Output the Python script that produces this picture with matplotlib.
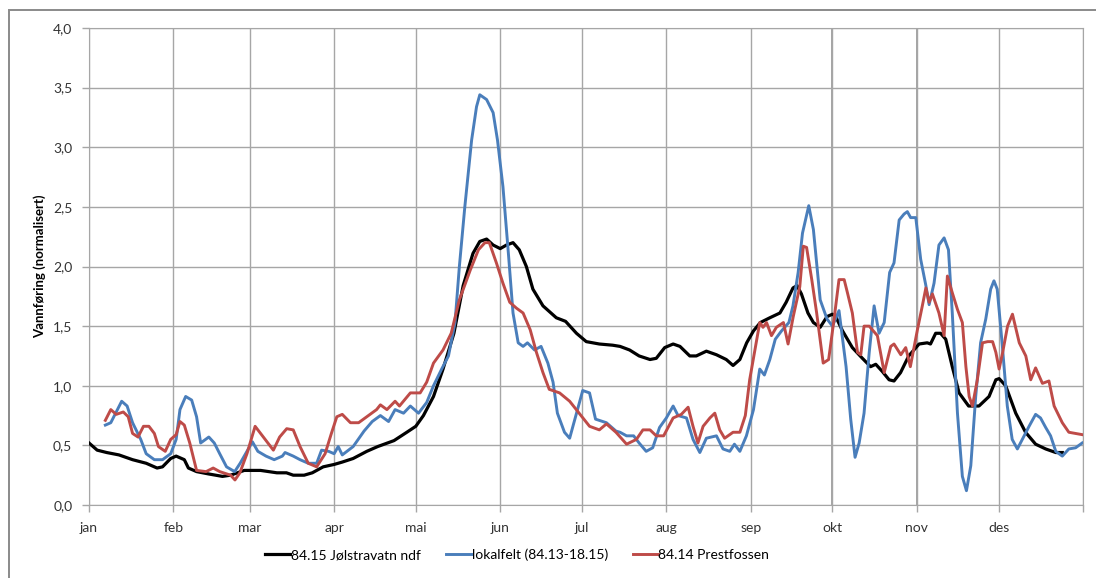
import matplotlib
matplotlib.use("Agg")
import matplotlib.pyplot as plt
from matplotlib.patches import Rectangle
from matplotlib.ticker import FuncFormatter

#%% Data (day of year, normalised flow)

month_labels = ["jan", "feb", "mar", "apr", "mai", "jun",
                "jul", "aug", "sep", "okt", "nov", "des"]
month_starts = [0, 31, 59, 90, 120, 151, 181, 212, 243, 273, 304, 334]

black_day = [0, 3, 6.5, 11, 16, 21, 25, 27, 30, 32, 35, 36.5, 39.5, 44, 49, 52, 57, 63, 69, 72.5,
             75, 79, 82, 86, 90, 93, 97, 102, 106, 112, 116.7, 120, 122.8, 126.5, 130, 134, 137.4,
             141, 143.5, 146, 148.4, 151, 153.3, 155.7, 158, 160.6, 163, 166.7, 171.6, 175, 179,
             182.6, 187.4, 192.3, 195, 198.5, 202, 206, 208.3, 211.4, 214.5, 217, 220.6, 223,
             226.7, 230.4, 234, 236.5, 239, 241.5, 244, 246.5, 250, 253.7, 256, 258.5, 260, 261.6,
             264, 266, 268.5, 271, 273, 274.2, 276.7, 280.3, 284, 287, 288.9, 291.3, 293.8, 295.6,
             298, 301, 304.8, 307.8, 309, 310.9, 312.7, 314.6, 317, 319.5, 323, 326.8, 330.5, 333,
             334.2, 336.6, 340.3, 343.9, 347.6, 351.3, 355, 357.4]
black_val = [0.52, 0.46, 0.44, 0.42, 0.38, 0.35, 0.31, 0.32, 0.39, 0.41, 0.38, 0.31, 0.28, 0.26, 0.24,
             0.25, 0.29, 0.29, 0.27, 0.27, 0.25, 0.25, 0.27, 0.32, 0.34, 0.36, 0.39, 0.45, 0.49, 0.54,
             0.61, 0.66, 0.75, 0.91, 1.14, 1.44, 1.84, 2.11, 2.21, 2.23, 2.18, 2.15, 2.18, 2.20, 2.14,
             2.00, 1.81, 1.67, 1.57, 1.54, 1.44, 1.37, 1.35, 1.34, 1.33, 1.30, 1.25, 1.22, 1.23, 1.32,
             1.35, 1.33, 1.25, 1.25, 1.29, 1.26, 1.22, 1.17, 1.22, 1.36, 1.46, 1.53, 1.57, 1.61, 1.70,
             1.82, 1.84, 1.77, 1.61, 1.53, 1.49, 1.58, 1.60, 1.58, 1.46, 1.32, 1.23, 1.16, 1.18, 1.12,
             1.05, 1.04, 1.11, 1.25, 1.35, 1.36, 1.35, 1.44, 1.44, 1.39, 1.16, 0.94, 0.83, 0.83, 0.91,
             1.05, 1.06, 1.00, 0.77, 0.61, 0.51, 0.47, 0.44, 0.44]

blue_day = [6, 8, 10, 12, 14, 16, 19, 21, 24, 27, 30, 32, 33.4, 35.5, 37.7, 39.5, 41, 44, 46, 48,
            50.5, 53.5, 55.5, 58, 60, 62, 65, 68, 71, 72, 75, 77.5, 80.5, 83.6, 85.4, 88, 90, 91.5,
            93, 97, 101, 104, 107, 110, 112.4, 115.5, 118, 121, 124, 126.5, 129.5, 132, 134.4, 136,
            138, 140.5, 142.3, 143.5, 146, 148.4, 150, 152, 154, 155.7, 157.6, 159.4, 161, 163.6,
            166, 168.5, 170.4, 172, 174.6, 176.5, 179, 181.3, 183.8, 186, 190, 193.5, 195, 197.4,
            200, 202, 204.6, 207, 209.5, 212, 214.5, 216.3, 219.4, 221.8, 224.3, 226.7, 230.4,
            232.8, 235.3, 237, 239, 241.4, 244, 246.3, 248, 250, 252, 254.3, 257, 258.5, 260.4,
            262, 264.3, 266, 268.5, 271, 273, 275.4, 278, 279.7, 281.3, 282.8, 284.6, 286.5, 288.3,
            290.1, 292, 294, 295.6, 297.5, 299.3, 300.5, 301.7, 303.6, 305.4, 307.3, 308.5, 310.3,
            312.1, 314, 315.6, 317, 318.9, 320.7, 322.2, 323.8, 325.6, 327.4, 329.3, 331.1, 332.3,
            333.5, 335.4, 337.2, 339, 340.9, 342.7, 345.2, 347.6, 349.4, 351.3, 353.1, 355, 357.4,
            359.8, 362.3, 364.7]
blue_val = [0.67, 0.69, 0.78, 0.87, 0.83, 0.69, 0.55, 0.43, 0.38, 0.38, 0.43, 0.55, 0.80, 0.91, 0.88,
            0.74, 0.52, 0.57, 0.52, 0.43, 0.32, 0.28, 0.35, 0.45, 0.53, 0.45, 0.41, 0.38, 0.41, 0.44,
            0.41, 0.38, 0.35, 0.35, 0.46, 0.45, 0.43, 0.49, 0.42, 0.49, 0.62, 0.70, 0.75, 0.70, 0.80,
            0.77, 0.83, 0.77, 0.86, 1.00, 1.14, 1.25, 1.53, 2.00, 2.50, 3.06, 3.34, 3.44, 3.40, 3.29,
            3.06, 2.67, 2.11, 1.61, 1.36, 1.33, 1.36, 1.30, 1.33, 1.19, 1.03, 0.77, 0.61, 0.56, 0.77,
            0.96, 0.94, 0.72, 0.69, 0.62, 0.61, 0.58, 0.58, 0.52, 0.45, 0.48, 0.65, 0.73, 0.83, 0.75,
            0.73, 0.55, 0.44, 0.56, 0.58, 0.47, 0.45, 0.51, 0.45, 0.58, 0.80, 1.14, 1.09, 1.22, 1.39,
            1.46, 1.53, 1.67, 1.95, 2.28, 2.51, 2.31, 1.72, 1.56, 1.50, 1.63, 1.16, 0.72, 0.40, 0.52,
            0.77, 1.28, 1.67, 1.44, 1.53, 1.95, 2.03, 2.39, 2.44, 2.46, 2.41, 2.41, 2.06, 1.84, 1.68,
            1.86, 2.18, 2.24, 2.14, 1.61, 0.77, 0.24, 0.12, 0.33, 0.91, 1.36, 1.56, 1.81, 1.88, 1.81,
            1.33, 0.83, 0.55, 0.47, 0.55, 0.66, 0.76, 0.73, 0.65, 0.58, 0.45, 0.41, 0.47, 0.48, 0.52]

red_day = [6, 8, 10, 12.6, 14.4, 16, 18, 20, 22, 24, 25.5, 28, 30, 32, 33.4, 35, 37, 39.5, 43, 45.6,
           48, 52, 53.6, 55.4, 58, 61, 64, 67.7, 70, 72.6, 75, 77.5, 80.5, 83.6, 86.7, 89, 91, 93,
           96, 99, 102, 105.6, 107, 109.4, 112.4, 114, 118, 121.6, 124, 126.5, 130, 133, 136, 140,
           143, 145.4, 147, 149.6, 152, 154.5, 157, 159.4, 162, 164.3, 166.7, 169, 172.8, 176.5,
           180, 183.8, 187.4, 190, 193.5, 197.4, 201, 203.4, 206, 208.3, 211, 214.5, 217.5, 220,
           221.8, 223.6, 225.5, 228, 229.8, 231.6, 233.4, 236.5, 239, 241, 242.6, 245, 246.3, 247.5,
           248.8, 250.6, 252.4, 255, 256.7, 258.6, 261, 262.3, 263.5, 265.4, 267.2, 269.6, 271.6,
           273.6, 275.4, 277.3, 278.5, 280.3, 282.2, 283.4, 284.6, 286.5, 289.5, 292, 294.4, 295.6,
           298.1, 299.9, 301.6, 304.2, 306, 307.3, 308.5, 309.7, 312.1, 314, 315.2, 317, 318.9,
           320.7, 322, 323.2, 324.4, 326.2, 328.1, 330, 331.8, 333, 334.2, 335.5, 337.3, 339.1,
           341.6, 344, 345.8, 347.6, 350.1, 352.5, 354.4, 357.4, 359.8, 364.7]
red_val = [0.71, 0.80, 0.76, 0.78, 0.74, 0.60, 0.57, 0.66, 0.66, 0.60, 0.49, 0.45, 0.55, 0.59, 0.70,
           0.67, 0.52, 0.29, 0.28, 0.31, 0.28, 0.25, 0.21, 0.27, 0.43, 0.66, 0.57, 0.46, 0.57, 0.64,
           0.63, 0.49, 0.35, 0.32, 0.43, 0.60, 0.74, 0.76, 0.69, 0.69, 0.74, 0.80, 0.84, 0.80, 0.87,
           0.83, 0.94, 0.94, 1.03, 1.19, 1.30, 1.44, 1.72, 1.97, 2.14, 2.20, 2.20, 2.03, 1.86, 1.70,
           1.65, 1.61, 1.47, 1.28, 1.11, 0.97, 0.94, 0.87, 0.77, 0.66, 0.63, 0.68, 0.61, 0.51, 0.55,
           0.63, 0.63, 0.58, 0.58, 0.73, 0.76, 0.82, 0.66, 0.52, 0.66, 0.73, 0.77, 0.63, 0.56, 0.61,
           0.61, 0.75, 1.05, 1.36, 1.53, 1.49, 1.53, 1.42, 1.49, 1.53, 1.35, 1.58, 1.83, 2.17, 2.16,
           1.89, 1.61, 1.19, 1.22, 1.56, 1.89, 1.89, 1.78, 1.61, 1.28, 1.26, 1.50, 1.50, 1.42, 1.11,
           1.33, 1.35, 1.26, 1.32, 1.16, 1.47, 1.67, 1.82, 1.70, 1.77, 1.61, 1.42, 1.92, 1.78, 1.64,
           1.53, 1.16, 0.91, 0.83, 1.05, 1.36, 1.37, 1.37, 1.28, 1.14, 1.28, 1.50, 1.60, 1.36, 1.25,
           1.05, 1.15, 1.02, 1.04, 0.83, 0.69, 0.61, 0.59]

series_names = ["84.15 Jølstravatn ndf", "lokalfelt (84.13-18.15)", "84.14 Prestfossen"]

#%% Plot

plt.rcParams['font.family'] = ['Lato', 'DejaVu Sans']
grid_col = "#a6a6a6"

fig = plt.figure(figsize=(10.96, 5.78), dpi=100)
ax = fig.add_axes([89 / 1096, 73 / 578, 994 / 1096, 477 / 578])

ax.plot(black_day, black_val, color="#000000", lw=2.3, label=series_names[0], zorder=3)
ax.plot(blue_day, blue_val, color="#4a7ebb", lw=2.1, label=series_names[1], zorder=4)
ax.plot(red_day, red_val, color="#be4b48", lw=2.1, label=series_names[2], zorder=5)

ax.set_xlim(0, 365)
ax.set_ylim(0, 4)
ax.set_xticks(month_starts + [365])
ax.set_xticklabels(month_labels + [""])
ax.set_yticks([i * 0.5 for i in range(9)])
ax.yaxis.set_major_formatter(FuncFormatter(lambda v, p: ("%.1f" % v).replace(".", ",")))

ax.grid(True, color=grid_col, lw=1.0)
# okt and nov gridlines look a bit darker in the original
for d in (273, 304):
    ax.axvline(d, color="#8c8c8c", lw=1.1, zorder=1)

for s in ax.spines.values():
    s.set_color(grid_col)
ax.tick_params(axis="both", colors=grid_col, length=5, width=1.0, labelcolor="#333333",
               labelsize=10)
ax.tick_params(axis="y", pad=7)
ax.tick_params(axis="x", pad=7)

ax.set_ylabel("Vannføring (normalisert)", fontsize=9.5, fontweight="bold", labelpad=5)

fig.legend(loc="center", bbox_to_anchor=(0.472, 0.04), ncol=3, frameon=False, fontsize=10,
           handlelength=1.8, handletextpad=0.05, columnspacing=1.8)

# outer chart frame (only top/left edges fall inside the image)
fig.patches.append(Rectangle((9 / 1096, -0.1), 1.2, 1 - 10 / 578 + 0.1, transform=fig.transFigure,
                             fill=False, edgecolor="#8a8a8a", lw=1.4))

fig.savefig("out.png", dpi=100)
